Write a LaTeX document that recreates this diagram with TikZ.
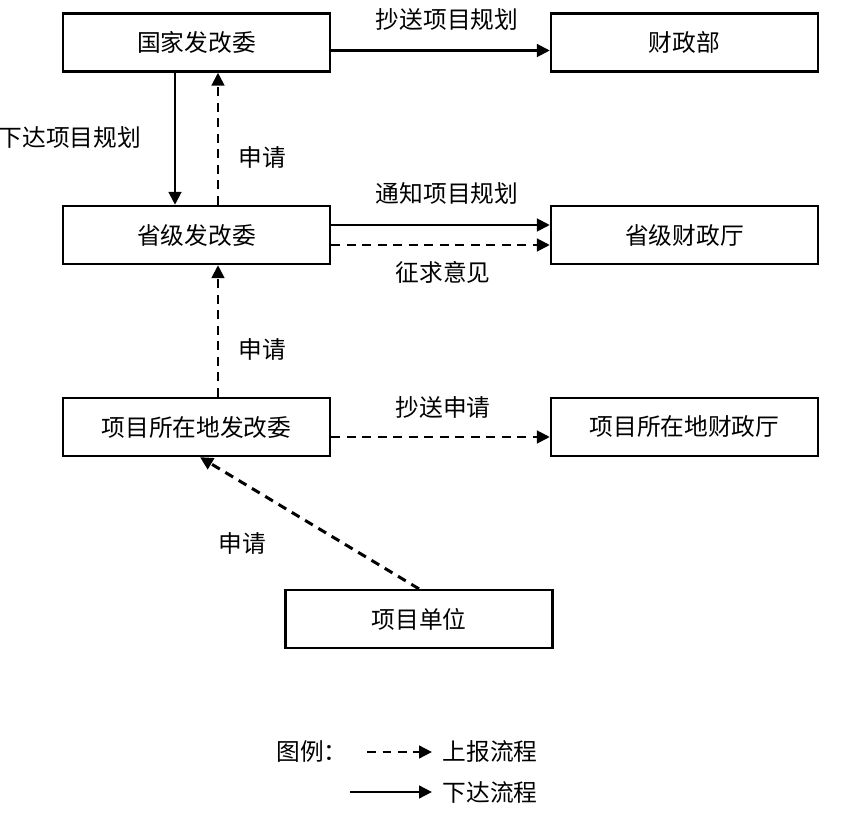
\documentclass[tikz,border=0pt]{standalone}
\usepackage{fontspec}
\setmainfont{Noto Sans CJK SC}
\usetikzlibrary{arrows.meta}

\begin{document}
\begin{tikzpicture}[x=0.02cm,y=-0.02cm,font=\fontsize{13.5pt}{15pt}\selectfont,
        box/.style={draw,line width=1.3pt,minimum width=5.34cm,
                    minimum height=1.16cm,inner sep=1pt},
        down/.style={line width=1.7pt,-{Triangle[length=2.6mm,width=2.5mm]}},
        up/.style={down,dash pattern=on 0.18cm off 0.13cm}]
        \useasboundingbox (0,0) rectangle (866,824);
        \foreach \n/\x/\y/\t in {gj/196.5/42.5/国家发改委,czb/684.5/42.5/财政部,
            sj/196.5/235/省级发改委,sjcz/684.5/235/省级财政厅,
            xm/196.5/427/项目所在地发改委,xmcz/684.5/427/项目所在地财政厅,
            dw/419/619/项目单位}{
          \node[box] (\n) at (\x,\y) {\t};
        }
        % flows
        \draw[down] ([yshift=-0.16cm]gj.east) -- ([yshift=-0.16cm]czb.west);
        \draw[down] ([xshift=-0.43cm]gj.south) -- ([xshift=-0.43cm]sj.north);
        \draw[up] ([xshift=0.43cm]sj.north) -- ([xshift=0.43cm]gj.south);
        \draw[down] ([yshift=0.2cm]sj.east) -- ([yshift=0.2cm]sjcz.west);
        \draw[up] ([yshift=-0.2cm]sj.east) -- ([yshift=-0.2cm]sjcz.west);
        \draw[up] ([xshift=0.43cm]xm.north) -- ([xshift=0.43cm]sj.south);
        \draw[up] ([yshift=-0.2cm]xm.east) -- ([yshift=-0.2cm]xmcz.west);
        \draw[up] (dw.north) -- ([xshift=0.07cm]xm.south);
        % labels
        \node (l1) at (447,20) {抄送项目规划};
        \node (l2) at (70,137) {下达项目规划};
        \node (l3) at (262,157) {申请};
        \node (l4) at (447,193) {通知项目规划};
        \node (l5) at (443,272) {征求意见};
        \node (l6) at (262,349) {申请};
        \node (l7) at (443,407) {抄送申请};
        \node (l8) at (242,543) {申请};
        % legend
        \node (lg) at (312,752) {图例：};
        \coordinate (a1) at (367,752);
        \coordinate (a2) at (432,752);
        \coordinate (b1) at (350,792);
        \coordinate (b2) at (432,792);
        \draw[up] (a1) -- (a2);
        \draw[down] (b1) -- (b2);
        \node (sb) at (490,752) {上报流程};
        \node (xd) at (490,792) {下达流程};
      \end{tikzpicture}
\end{document}
